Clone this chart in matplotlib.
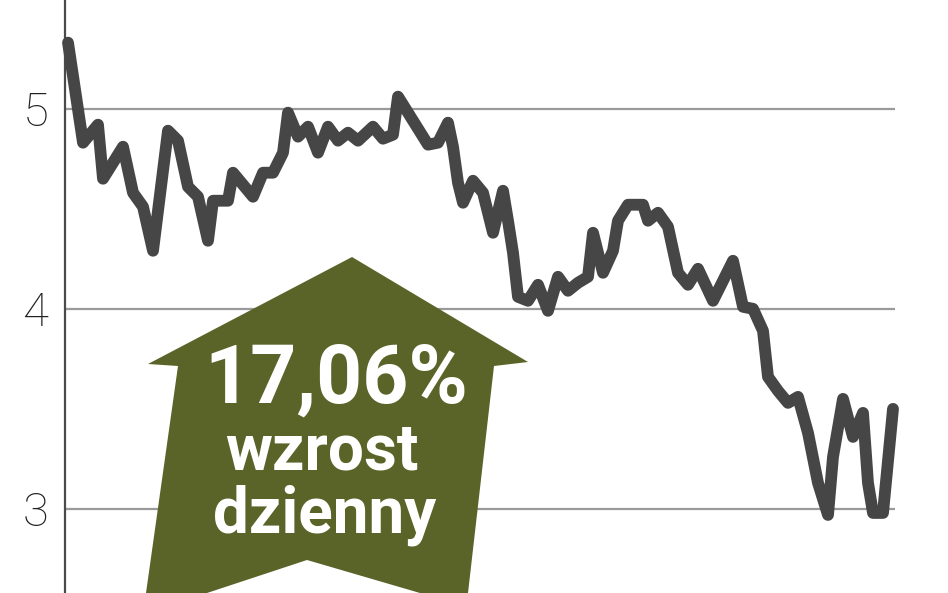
import matplotlib
matplotlib.use("Agg")
import matplotlib.pyplot as plt
from matplotlib.patches import Polygon

# ---- data (trading-day index, price) ----
days = [0, 3, 6, 7, 9, 11, 13, 15, 17, 20, 22, 24, 26, 28, 29, 32, 33, 37, 39, 41,
        43, 44, 46, 48, 50, 52, 54, 56, 58, 61, 63, 65, 66, 69, 72, 74, 76, 77, 78, 79,
        81, 83, 85, 87, 88, 89, 90, 92, 94, 96, 98, 100, 102, 104, 105, 107, 109, 110, 112, 115,
        116, 118, 120, 122, 124, 126, 129, 133, 135, 137, 139, 140, 142, 144, 146, 148, 150, 152, 153, 155,
        157, 159, 160, 161, 163, 165]
prices = [5.33, 4.83, 4.92, 4.65, 4.73, 4.81, 4.58, 4.51, 4.29, 4.89, 4.84, 4.61, 4.56, 4.34, 4.54, 4.54, 4.68, 4.56, 4.68, 4.68,
          4.78, 4.98, 4.86, 4.91, 4.78, 4.91, 4.84, 4.88, 4.84, 4.91, 4.85, 4.87, 5.06, 4.94, 4.82, 4.83, 4.93, 4.81, 4.63, 4.53,
          4.64, 4.58, 4.38, 4.59, 4.44, 4.28, 4.06, 4.04, 4.12, 3.99, 4.16, 4.09, 4.13, 4.16, 4.38, 4.18, 4.29, 4.44, 4.52, 4.52,
          4.44, 4.48, 4.41, 4.18, 4.12, 4.20, 4.04, 4.24, 4.01, 4.00, 3.89, 3.66, 3.59, 3.53, 3.56, 3.38, 3.13, 2.97, 3.26, 3.55,
          3.36, 3.48, 3.13, 2.98, 2.98, 3.50]
yticks = [3, 4, 5]
ytick_labels = ["3", "4", "5"]
badge_value = "17,06%"
badge_line1 = "wzrost"
badge_line2 = "dzienny"

W, H = 948, 593
fig = plt.figure(figsize=(W / 100, H / 100), dpi=100)
fig.patch.set_facecolor("white")
ax = fig.add_axes([65 / W, 0, 830 / W, 1])
ax.set_facecolor("white")

ax.plot(days, prices, color="#464646", lw=8.5, solid_joinstyle="round",
        solid_capstyle="round", zorder=3, clip_on=False)

ax.set_xlim(-0.6, 165.4)
ax.set_ylim(2.58, 5.543)
ax.set_yticks(yticks)
ax.set_yticklabels(ytick_labels, fontsize=34, color="#222222",
                   family=["Roboto", "DejaVu Sans"], fontweight="light")
ax.set_xticks([])
ax.tick_params(axis="y", length=0, pad=12)
ax.set_axisbelow(True)
ax.yaxis.grid(True, color="#9a9a9a", lw=1.6)

for s in ["top", "right", "bottom"]:
    ax.spines[s].set_visible(False)
ax.spines["left"].set_color("#4a4a4a")
ax.spines["left"].set_linewidth(1.6)

# ---- arrow badge (pixel coordinates, y downward) ----
arrow_px = [(352, 257), (528, 362), (494, 366), (468, 593), (420, 593),
            (307, 560), (207, 593), (146, 593), (178, 366), (148, 364)]
arrow_fig = [(x / W, 1 - y / H) for x, y in arrow_px]
poly = Polygon(arrow_fig, closed=True, facecolor="#5a6428", edgecolor="none",
               transform=fig.transFigure, zorder=2, clip_on=False)
ax.add_patch(poly)

fam = ["Roboto", "DejaVu Sans"]
fig.text(336 / W, 1 - 403 / H, badge_value, color="white", fontsize=58,
         fontweight="bold", family=fam, ha="center", va="baseline", zorder=5)
fig.text(322 / W, 1 - 470 / H, badge_line1, color="white", fontsize=46,
         fontweight="bold", family=fam, ha="center", va="baseline", zorder=5)
fig.text(325 / W, 1 - 533 / H, badge_line2, color="white", fontsize=46,
         fontweight="bold", family=fam, ha="center", va="baseline", zorder=5)

fig.savefig("out.png", dpi=100, facecolor="white")
